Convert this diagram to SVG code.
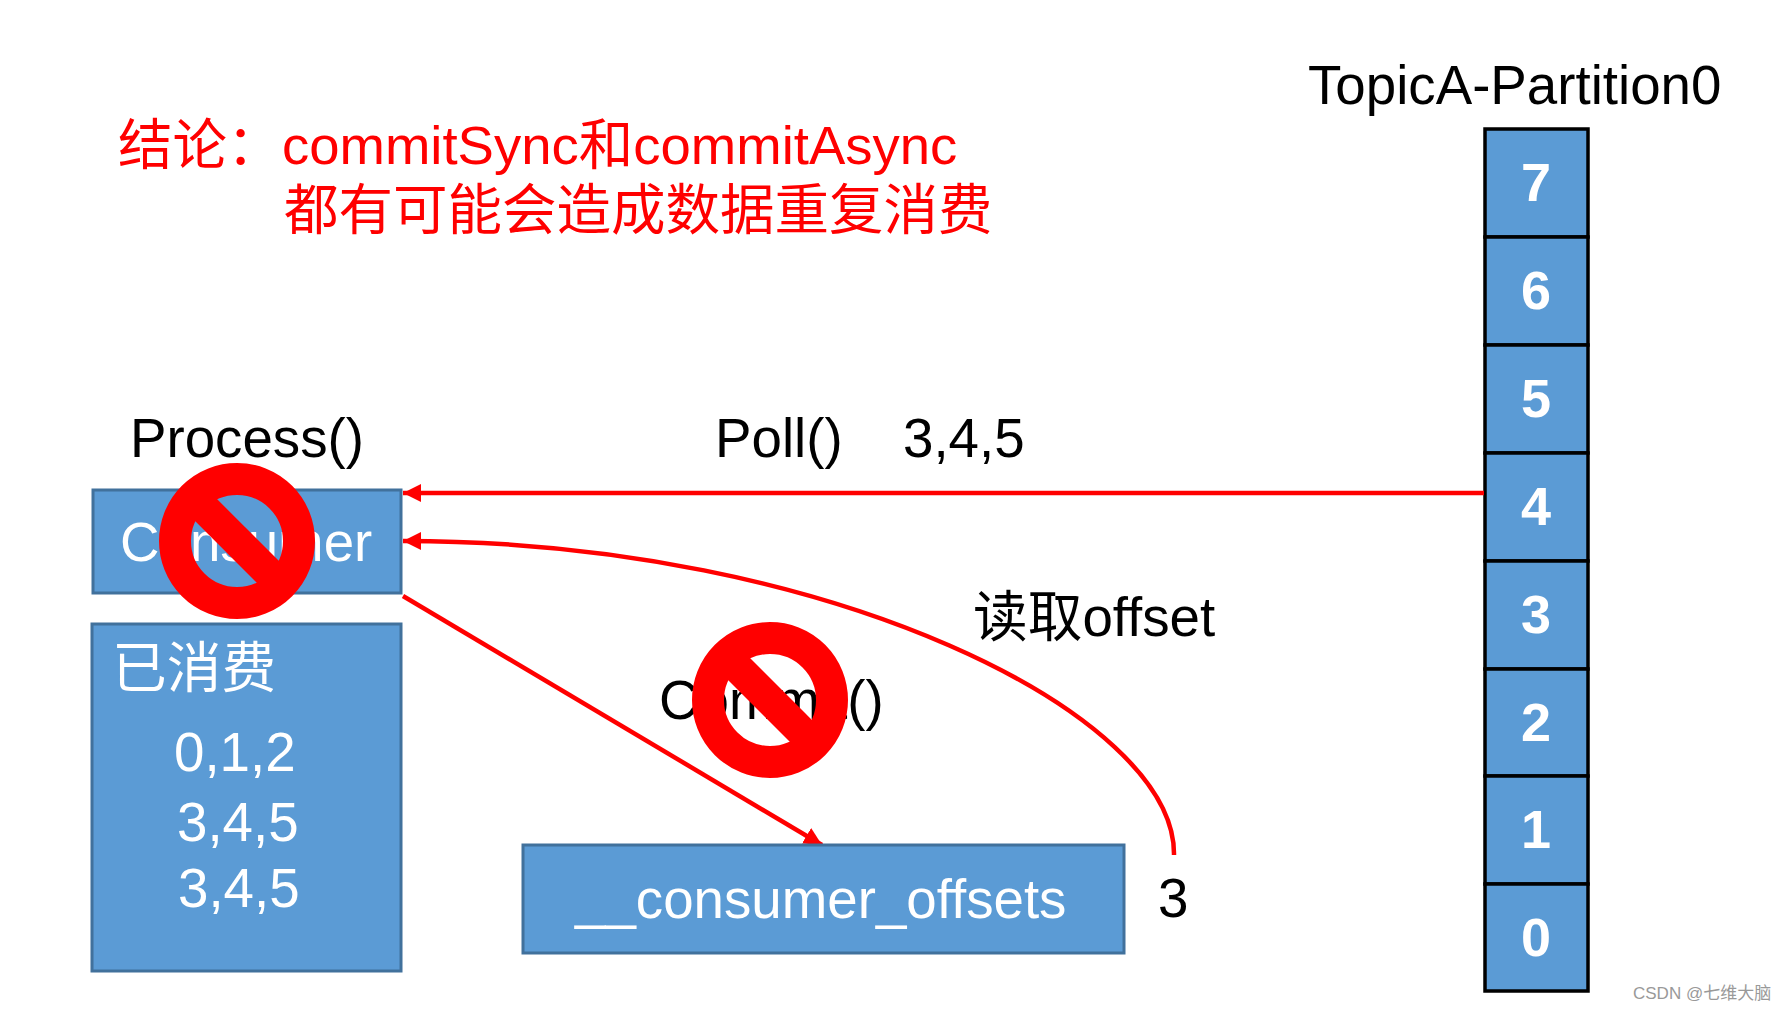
<svg xmlns="http://www.w3.org/2000/svg" width="1784" height="1012" viewBox="0 0 1784 1012">
<style>
text{font-family:"Liberation Sans","Noto Sans CJK SC",sans-serif}
.box{fill:#5b9bd5;stroke:#41719c;stroke-width:3}
.cell{fill:#5b9bd5;stroke:#000;stroke-width:3.5}
.w{fill:#fff;font-size:54.7px}
.k{fill:#000;font-size:54.7px}
.r{fill:#f00;font-size:54.5px}
.n{fill:#fff;font-size:54px;font-weight:bold;text-anchor:middle}
.c{fill:none;stroke:#f00;stroke-width:4.5}
</style>
<defs>
<marker id="a" markerUnits="userSpaceOnUse" markerWidth="20" markerHeight="18" refX="18" refY="9" orient="auto"><path d="M0 0L18 9L0 18Z" fill="#f00"/></marker>
<g id="ban"><circle r="62" fill="none" stroke="#f00" stroke-width="32"/><path d="M-48 -48L48 48" stroke="#f00" stroke-width="31" fill="none"/></g>
</defs>
<g id="title">
<text class="r" x="118" y="164">结论：</text>
<text class="r" x="282" y="164">commitSync和commitAsync</text>
<text class="r" x="284" y="229">都有可能会造成数据重复消费</text>
</g>
<g id="partition-label"><text class="k" x="1308" y="104">TopicA-Partition0</text></g>
<g id="partition">
<g id="p7"><rect class="cell" x="1485" y="129" width="103" height="108"/><text class="n" x="1536" y="201">7</text></g>
<g id="p6"><rect class="cell" x="1485" y="237" width="103" height="108"/><text class="n" x="1536" y="309">6</text></g>
<g id="p5"><rect class="cell" x="1485" y="345" width="103" height="108"/><text class="n" x="1536" y="417">5</text></g>
<g id="p4"><rect class="cell" x="1485" y="453" width="103" height="108"/><text class="n" x="1536" y="525">4</text></g>
<g id="p3"><rect class="cell" x="1485" y="561" width="103" height="108"/><text class="n" x="1536" y="633">3</text></g>
<g id="p2"><rect class="cell" x="1485" y="669" width="103" height="107"/><text class="n" x="1536" y="741">2</text></g>
<g id="p1"><rect class="cell" x="1485" y="776" width="103" height="108"/><text class="n" x="1536" y="848">1</text></g>
<g id="p0"><rect class="cell" x="1485" y="884" width="103" height="107"/><text class="n" x="1536" y="956">0</text></g>
</g>
<g id="process-label"><text class="k" x="130" y="457">Process()</text></g>
<g id="poll-label"><text class="k" x="715" y="457">Poll()</text><text class="k" x="903" y="457">3,4,5</text></g>
<g id="read-label"><text class="k" x="973" y="636">读取offset</text></g>
<g id="commit-label"><text class="k" x="659" y="719">Commit()</text></g>
<g id="three-label"><text class="k" x="1158" y="917">3</text></g>
<g id="consumer"><rect class="box" x="93" y="490" width="308" height="103"/><text class="w" x="120" y="561">Consumer</text></g>
<g id="consumed">
<rect class="box" x="92" y="624" width="309" height="347"/>
<text class="w" x="112" y="687">已消费</text>
<text class="w" x="174" y="771">0,1,2</text>
<text class="w" x="177" y="841">3,4,5</text>
<text class="w" x="178" y="907">3,4,5</text>
</g>
<g id="connectors">
<path class="c" d="M1484 493H403" marker-end="url(#a)"/>
<path class="c" d="M1174 855C1176 715 830 541 403 541" marker-end="url(#a)"/>
<path class="c" d="M403 596L822 845" marker-end="url(#a)"/>
</g>
<g id="offsets"><rect class="box" x="523" y="845" width="601" height="108"/><text class="w" x="575" y="918">__consumer_offsets</text></g>
<g id="ban1"><use href="#ban" x="237" y="541"/></g>
<g id="ban2"><use href="#ban" x="770" y="700"/></g>
<g id="watermark"><text x="1633" y="999" font-size="17" fill="#999">CSDN @七维大脑</text></g>
</svg>
